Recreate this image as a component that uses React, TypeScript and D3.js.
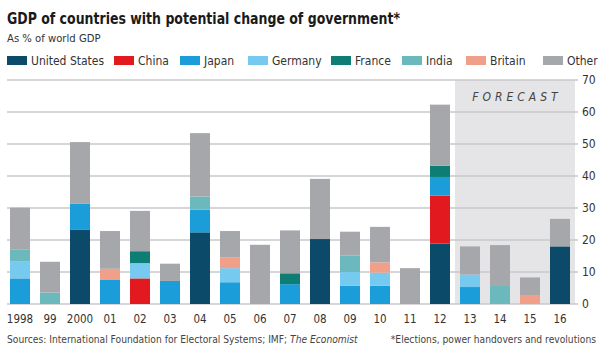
import React from 'react';
import * as d3 from 'd3';

const years = ["1998", "99", "2000", "01", "02", "03", "04", "05", "06", "07", "08", "09", "10", "11", "12", "13", "14", "15", "16"];
const forecastYears = ["13", "14", "15", "16"];

const unitedStates = [0, 0, 23.3, 0, 0, 0, 22.4, 0, 0, 0, 20.3, 0, 0, 0, 18.9, 0, 0, 0, 18.0];
const china = [0, 0, 0, 0, 8, 0, 0, 0, 0, 0, 0, 0, 0, 0, 15, 0, 0, 0, 0];
const japan = [8, 0, 8, 7.5, 0, 7.2, 7.1, 6.8, 0, 6.2, 0, 5.7, 5.7, 0, 5.8, 5.3, 0, 0, 0];
const germany = [5.4, 0, 0, 0, 4.8, 0, 0, 4.4, 0, 0, 0, 4.3, 4.1, 0, 0, 3.9, 0, 0, 0];
const france = [0, 0, 0, 0, 3.7, 0, 0, 0, 0, 3.4, 0, 0, 0, 0, 3.5, 0, 0, 0, 0];
const india = [3.7, 3.6, 0, 0, 0, 0, 4.1, 0, 0, 0, 0, 5.2, 0, 0, 0, 0, 5.9, 0, 0];
const britain = [0, 0, 0, 3.5, 0, 0, 0, 3.4, 0, 0, 0, 0, 3.2, 0, 0, 0, 0, 2.6, 0];
const other = [13, 9.6, 19.3, 11.8, 12.6, 5.4, 19.8, 8.2, 18.5, 13.4, 18.8, 7.4, 11.1, 11.2, 19.1, 8.8, 12.5, 5.7, 8.6];

const seriesNames = ["United States", "China", "Japan", "Germany", "France", "India", "Britain", "Other"];
const seriesValues = [unitedStates, china, japan, germany, france, india, britain, other];
const colors = ["#0b4a68", "#e2191f", "#1b9dd9", "#76c9ef", "#0e7d73", "#6bb9bd", "#f0a088", "#a6a7aa"];

// legend swatch x positions
const legendX = [7, 114, 180, 248, 331, 402, 466, 543];

const yTicks = [0, 10, 20, 30, 40, 50, 60, 70];

const W = 610;
const H = 352;

const fontNarrow = '"Liberation Sans Narrow", "DejaVu Sans Condensed", "Roboto", sans-serif';

export default function App() {
  const rows = years.map((y, i) => {
    const r: any = { year: y };
    seriesNames.forEach((s, j) => (r[s] = seriesValues[j][i]));
    return r;
  });
  const stacked = d3.stack().keys(seriesNames)(rows);

  const x = d3.scaleBand().domain(years).range([5, 575]).paddingInner(1 / 3).paddingOuter(1 / 6);
  const y = d3.scaleLinear().domain([0, 70]).range([304, 80]);
  const bw = x.bandwidth();

  const shadeX0 = (x(forecastYears[0]) as number) - 5;
  const shadeX1 = (x(forecastYears[forecastYears.length - 1]) as number) + bw + 5;

  return (
    <svg width={W} height={H} style={{ position: 'absolute', left: 0, top: 0, background: '#fff' }}>
      <text x={7} y={24} fontFamily={fontNarrow} fontWeight="bold" fontSize={15.5} fill="#1a1a1a"
        textLength={393} lengthAdjust="spacingAndGlyphs">
        GDP of countries with potential change of government*
      </text>
      <text x={7} y={42} fontFamily={fontNarrow} fontSize={11.2} fill="#333">
        As % of world GDP
      </text>

      {seriesNames.map((s, i) => (
        <g key={s}>
          <rect x={legendX[i]} y={56} width={20} height={9} fill={colors[i]} />
          <text x={legendX[i] + 24} y={65} fontFamily={fontNarrow} fontSize={12} fill="#333">{s}</text>
        </g>
      ))}

      <rect x={shadeX0} y={y(70)} width={shadeX1 - shadeX0} height={y(0) - y(70)} fill="#e5e5e7" />
      <text x={(shadeX0 + shadeX1) / 2 + 2} y={101} textAnchor="middle" fontFamily={fontNarrow} fontStyle="italic"
        fontSize={12} letterSpacing={4} fill="#444">FORECAST</text>

      {yTicks.map(t => (
        <g key={t}>
          <line x1={7} x2={578} y1={y(t)} y2={y(t)} stroke="#c9c9cb" strokeWidth={1.3} />
          <text x={582} y={y(t) + 4} fontFamily={fontNarrow} fontSize={12} fill="#333">{t}</text>
        </g>
      ))}

      {stacked.map((layer, i) => (
        <g key={layer.key} fill={colors[i]}>
          {layer.map((d, j) => d[1] - d[0] > 0 ? (
            <rect key={j} x={x(years[j])} y={y(d[1])} width={bw} height={y(d[0]) - y(d[1])} />
          ) : null)}
        </g>
      ))}

      {years.map(yr => (
        <text key={yr} x={(x(yr) as number) + bw / 2} y={323} textAnchor="middle" fontFamily={fontNarrow}
          fontSize={11.5} fill="#333">{yr}</text>
      ))}

      <text x={7} y={343} fontFamily={fontNarrow} fontSize={10.2} fill="#444">
        Sources: International Foundation for Electoral Systems; IMF; <tspan fontStyle="italic">The Economist</tspan>
      </text>
      <text x={596} y={343} textAnchor="end" fontFamily={fontNarrow} fontSize={10.2} fill="#444">
        *Elections, power handovers and revolutions
      </text>
    </svg>
  );
}
